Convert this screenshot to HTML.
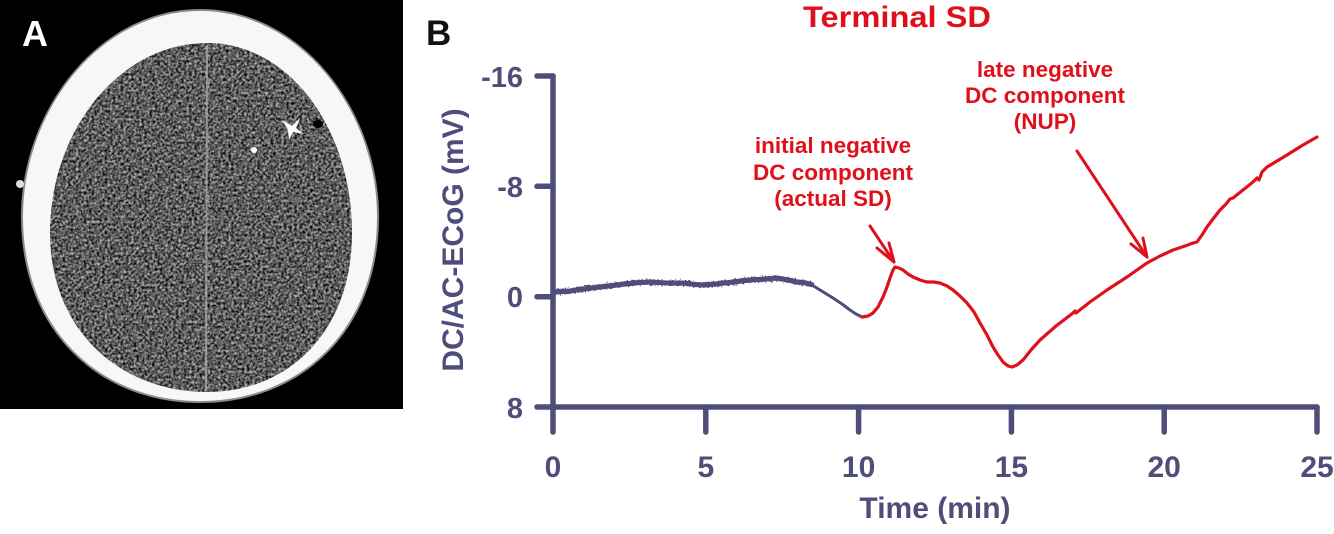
<!DOCTYPE html>
<html>
<head>
<meta charset="utf-8">
<style>
  html, body { margin: 0; padding: 0; background: #ffffff; }
  body { width: 1334px; height: 534px; overflow: hidden; }
  svg { display: block; }
  .ax { font-family: "Liberation Sans", Arial, sans-serif; font-weight: bold; fill: #4f4e7a; }
  .rd { font-family: "Liberation Sans", Arial, sans-serif; font-weight: bold; fill: #e0101a; }
</style>
</head>
<body>
<svg width="1334" height="534" viewBox="0 0 1334 534" xmlns="http://www.w3.org/2000/svg">
  <defs>
    <filter id="noise" x="0" y="0" width="100%" height="100%" color-interpolation-filters="sRGB">
      <feTurbulence type="fractalNoise" baseFrequency="0.38" numOctaves="2" seed="2" result="t"/>
      <feColorMatrix in="t" type="matrix" values="1.2 0 0 0 -0.24  1.2 0 0 0 -0.24  1.2 0 0 0 -0.24  0 0 0 0 1" result="g"/>
      <feComposite in="g" in2="SourceGraphic" operator="in"/>
    </filter>
    <filter id="jit" filterUnits="userSpaceOnUse" x="540" y="260" width="290" height="50" color-interpolation-filters="sRGB">
      <feTurbulence type="fractalNoise" baseFrequency="0.6" numOctaves="1" seed="7" result="t"/>
      <feDisplacementMap in="SourceGraphic" in2="t" scale="7" xChannelSelector="R" yChannelSelector="G"/>
    </filter>
  </defs>

  <!-- Panel A: CT image -->
  <rect x="0" y="0" width="403" height="409" fill="#000"/>
  <!-- skull -->
  <path d="M200 9 C301 9 379 110 379 217 C379 331 301 403 200 403 C99 403 21 331 21 217 C21 110 99 9 200 9 Z" fill="#8a8a8a"/>
  <path d="M200 11 C300 11 377 110 377 217 C377 330 300 401 200 401 C100 401 23 330 23 217 C23 110 100 11 200 11 Z" fill="#f7f7f7"/>
  <!-- brain -->
  <path d="M207 43 C290 43 352 130 352 233 C352 330 290 392 207 392 C120 392 50 330 50 233 C50 130 120 43 207 43 Z" fill="#fff" filter="url(#noise)"/>
  <!-- midline -->
  <line x1="207" y1="45" x2="206" y2="390" stroke="#a8a8a8" stroke-width="2" opacity="0.8"/>
  <!-- artifacts -->
  <path d="M282 120 L292 126 L300 118 L296 128 L304 134 L293 132 L289 140 L288 130 Z" fill="#ffffff"/>
  <ellipse cx="318" cy="124" rx="5" ry="4" fill="#000"/>
  <circle cx="254" cy="150" r="3" fill="#ffffff"/>
  <circle cx="20" cy="184" r="4" fill="#dddddd"/>
  <text x="22" y="46" font-family="Liberation Sans, Arial, sans-serif" font-weight="bold" font-size="36" fill="#ffffff">A</text>

  <!-- Panel B -->
  <text x="426" y="45" font-family="Liberation Sans, Arial, sans-serif" font-weight="bold" font-size="35" fill="#111">B</text>
  <text class="rd" x="803" y="27" font-size="30" textLength="188" lengthAdjust="spacingAndGlyphs">Terminal SD</text>

  <!-- axes -->
  <g stroke="#4f4e7a" stroke-width="5.5" stroke-linecap="round" fill="none">
    <line x1="553" y1="76" x2="553" y2="407"/>
    <line x1="553" y1="407" x2="1317" y2="407"/>
    <line x1="537" y1="76" x2="553" y2="76"/>
    <line x1="537" y1="186.3" x2="553" y2="186.3"/>
    <line x1="537" y1="296.7" x2="553" y2="296.7"/>
    <line x1="537" y1="407" x2="553" y2="407"/>
    <line x1="553" y1="407" x2="553" y2="432"/>
    <line x1="705.8" y1="407" x2="705.8" y2="432"/>
    <line x1="858.6" y1="407" x2="858.6" y2="432"/>
    <line x1="1011.4" y1="407" x2="1011.4" y2="432"/>
    <line x1="1164.2" y1="407" x2="1164.2" y2="432"/>
    <line x1="1317" y1="407" x2="1317" y2="432"/>
  </g>

  <!-- y tick labels -->
  <g class="ax" font-size="29" text-anchor="end">
    <text x="523" y="87">-16</text>
    <text x="523" y="197">-8</text>
    <text x="523" y="307">0</text>
    <text x="523" y="418">8</text>
  </g>
  <!-- x tick labels -->
  <g class="ax" font-size="30" text-anchor="middle">
    <text x="553" y="477">0</text>
    <text x="705.8" y="477">5</text>
    <text x="858.6" y="477">10</text>
    <text x="1011.4" y="477">15</text>
    <text x="1164.2" y="477">20</text>
    <text x="1317" y="477">25</text>
  </g>
  <text class="ax" x="935" y="518" font-size="30" text-anchor="middle">Time (min)</text>
  <text class="ax" font-size="30" text-anchor="middle" transform="translate(463 240) rotate(-90)">DC/AC-ECoG (mV)</text>

  <!-- gray noisy trace -->
  <polyline fill="none" stroke="#4f4e7a" stroke-width="5" stroke-linejoin="round"
    points="555,292 570,291 583,289 600,287 617,285 633,283 650,282 667,283 683,283 700,285 716,284 733,282 750,280 765,279 777,278 788,280 797,282 806,283 813,285"/>
  <polyline filter="url(#jit)" fill="none" stroke="#4f4e7a" stroke-width="5" stroke-linejoin="round"
    points="555,292 570,291 583,289 600,287 617,285 633,283 650,282 667,283 683,283 700,285 716,284 733,282 750,280 765,279 777,278 788,280 797,282 806,283 813,285"/>
  <polyline fill="none" stroke="#4f4e7a" stroke-width="3" stroke-linejoin="round" stroke-linecap="round"
    points="812,285 820,290 833,298 842,304 850,310 856,314 862,317"/>

  <!-- red trace -->
  <polyline fill="none" stroke="#e0101a" stroke-width="3.2" stroke-linejoin="round" stroke-linecap="round"
    points="862,317 868,316 873,313 878,307 883,297 887,287 890,278 893,270 895,267 899,268 903,270 908,274 913,277 920,280 927,282 934,282 940,283 947,286 953,290 960,296 967,303 974,312 980,323 987,335 993,347 998,355 1003,362 1008,366 1012,367 1017,365 1023,360 1031,350 1040,340 1056,326 1073,313 1075,311 1076,313 1090,302 1107,290 1127,277 1147,263 1160,256 1173,250 1185,246 1193,243 1197,242 1202,235 1207,227 1213,219 1220,210 1226,204 1230,199 1233,198 1243,190 1253,182 1257,178 1259,180 1262,172 1267,167 1277,161 1287,155 1295,150 1303,145 1310,141 1317,137"/>

  <!-- annotations -->
  <g class="rd" font-size="22.5" text-anchor="middle">
    <text x="833" y="153">initial negative</text>
    <text x="833" y="180">DC component</text>
    <text x="833" y="206">(actual SD)</text>
    <text x="1045" y="77">late negative</text>
    <text x="1045" y="103">DC component</text>
    <text x="1045" y="129">(NUP)</text>
  </g>

  <!-- arrows -->
  <g stroke="#e0101a" stroke-width="3" stroke-linecap="round" stroke-linejoin="round" fill="none">
    <line x1="870" y1="226" x2="894" y2="262"/>
    <polyline points="877,248 894,262 889,243"/>
    <line x1="1077" y1="151" x2="1147" y2="257"/>
    <polyline points="1131,244 1147,257 1143,238"/>
  </g>
</svg>
</body>
</html>
